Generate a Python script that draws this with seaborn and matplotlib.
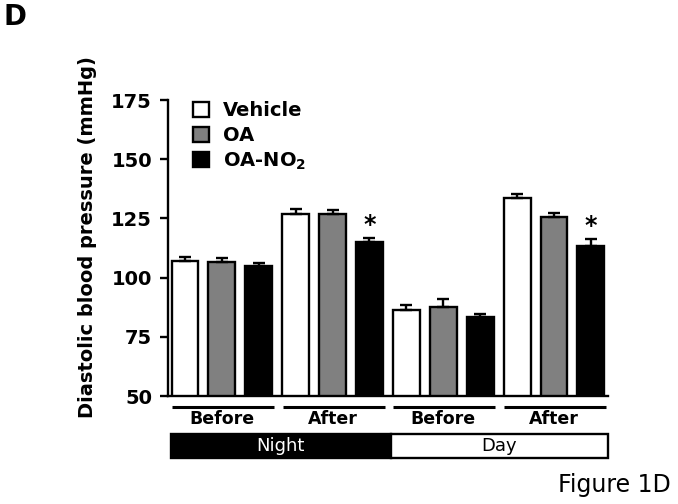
import numpy as np
import pandas as pd
import matplotlib
matplotlib.use("Agg")
from matplotlib import pyplot as plt
from matplotlib import transforms
from matplotlib.patches import Rectangle
import seaborn as sns

# values (mean and SEM, mmHg)
groups = ["Night-Before", "Night-After", "Day-Before", "Day-After"]
group_labels = ["Before", "After", "Before", "After"]
periods = ["Night", "Day"]
treatments = ["Vehicle", "OA", "OA-NO2"]
legend_labels = ["Vehicle", "OA", r"OA-NO$_{\mathbf{2}}$"]

vehicle_mean = [106.9, 126.7, 86.5, 133.5]
oa_mean = [106.5, 127.0, 87.7, 125.7]
oano2_mean = [105.0, 115.2, 83.2, 113.5]
vehicle_sem = [1.7, 2.1, 2.1, 1.8]
oa_sem = [1.7, 1.4, 3.1, 1.6]
oano2_sem = [1.2, 1.5, 1.3, 2.8]
significant = ["Night-After", "Day-After"]  # OA-NO2 vs vehicle

df = pd.DataFrame({
    "group": groups * 3,
    "treatment": [t for t in treatments for _ in groups],
    "dbp": vehicle_mean + oa_mean + oano2_mean,
})
sems = [vehicle_sem, oa_sem, oano2_sem]

sns.set_style("ticks")
plt.rcParams["font.family"] = ["DejaVu Sans"]
plt.rcParams["mathtext.default"] = "bf"
for k in ["text.color", "axes.labelcolor", "xtick.color", "ytick.color",
          "axes.edgecolor"]:
    plt.rcParams[k] = "black"

fig = plt.figure(figsize=(6.78, 5.04), dpi=100)
ax = fig.add_axes([168 / 678, 108 / 504, 440 / 678, 296 / 504])

sns.barplot(data=df, x="group", y="dbp", hue="treatment", order=groups,
            hue_order=treatments, palette=["white", "#808080", "black"],
            edgecolor="black", linewidth=1.7, width=1.0, gap=0.27,
            errorbar=None, ax=ax)

# one-sided SEM bars and asterisks
for cont, err, t in zip(ax.containers, sems, treatments):
    xs = [p.get_x() + p.get_width() / 2 for p in cont]
    hs = [p.get_height() for p in cont]
    ax.errorbar(xs, hs, yerr=[np.zeros(len(err)), err], fmt="none",
                ecolor="black", elinewidth=1.7, capsize=4.5, capthick=1.7,
                zorder=1)
    if t == "OA-NO2":
        for g, x, h, e in zip(groups, xs, hs, err):
            if g in significant:
                ax.text(x, h + e + 0.5, "*", ha="center", va="bottom",
                        fontsize=17, fontweight="bold")

ax.set_ylim(50, 175)
ax.set_yticks([50, 75, 100, 125, 150, 175])
ax.set_xlim(-0.487, 3.488)
ax.set_xticks([])
ax.set_xlabel("")
ax.tick_params(axis="y", length=6, width=1.7, pad=5.5, labelsize=14)
for lbl in ax.get_yticklabels():
    lbl.set_fontweight("bold")
sns.despine(ax=ax)
for s in ["left", "bottom"]:
    ax.spines[s].set_linewidth(1.7)

ax.set_ylabel("Diastolic blood pressure (mmHg)", fontsize=14,
              fontweight="bold", ha="center", va="center")
ax.yaxis.set_label_coords(-0.184, 0.537)

# group underlines, Before/After labels, Night/Day boxes
trans = transforms.blended_transform_factory(ax.transData, ax.transAxes)
for i, lab in enumerate(group_labels):
    ax.plot([i - 0.45, i + 0.47], [-0.036, -0.036], color="black", lw=2.2,
            transform=trans, clip_on=False, solid_capstyle="butt")
    ax.text(i, -0.078, lab, transform=trans, ha="center", va="center",
            fontsize=12.5, fontweight="bold")

box_edges = [(-0.462, 1.525), (1.525, 3.488)]
for (x0, x1), name in zip(box_edges, periods):
    dark = name == "Night"
    ax.add_patch(Rectangle((x0, -0.209), x1 - x0, 0.081, transform=trans,
                           facecolor="black" if dark else "white",
                           edgecolor="black", lw=1.7, clip_on=False))
    ax.text((x0 + x1) / 2, -0.168, name, transform=trans, ha="center",
            va="center", fontsize=13, color="white" if dark else "black")

handles, _ = ax.get_legend_handles_labels()
ax.legend(handles, legend_labels, loc="upper left",
          bbox_to_anchor=(193 / 678, 1 - 101 / 504),
          bbox_transform=fig.transFigure, frameon=False, borderpad=0,
          borderaxespad=0, handlelength=0.8, handleheight=0.8,
          handletextpad=0.75, labelspacing=0.3,
          prop={"size": 14, "weight": "bold"})

fig.text(3 / 678, 1 - 25 / 504, "D", fontsize=20, fontweight="bold",
         va="baseline")
fig.text(558 / 678, 1 - 492 / 504, "Figure 1D", fontsize=17, va="baseline")

fig.savefig("out.png", dpi=100)
